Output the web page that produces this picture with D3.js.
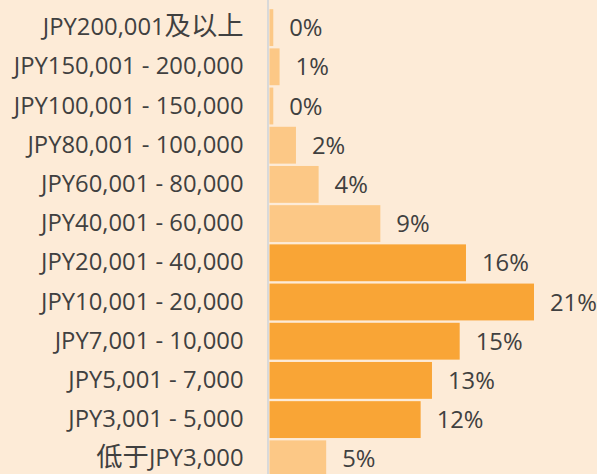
<!DOCTYPE html>
<html>
<head>
<meta charset="utf-8">
<script src="https://cdn.jsdelivr.net/npm/d3@7"></script>
<style>
  html, body { margin: 0; padding: 0; background: #FDEBD7; }
  svg { display: block; }
  text { font-family: "Open Sans", "Noto Sans CJK SC", sans-serif; fill: #404040; }
</style>
</head>
<body>
<svg id="chart" width="597" height="474"></svg>
<script>
// Spending bands, top to bottom
const categories = [
  "JPY200,001及以上",
  "JPY150,001 - 200,000",
  "JPY100,001 - 150,000",
  "JPY80,001 - 100,000",
  "JPY60,001 - 80,000",
  "JPY40,001 - 60,000",
  "JPY20,001 - 40,000",
  "JPY10,001 - 20,000",
  "JPY7,001 - 10,000",
  "JPY5,001 - 7,000",
  "JPY3,001 - 5,000",
  "低于JPY3,000"
];
// Share of respondents, percent
const shares = [0.3, 0.8, 0.3, 2.1, 3.9, 8.8, 15.6, 21.0, 15.1, 12.9, 12.0, 4.5];
// Bands highlighted in the darker tone
const highlighted = [false, false, false, false, false, false, true, true, true, true, true, false];

const W = 597, H = 474;
const margin = { top: 8, left: 269.5 };
const barAreaWidth = 264.5;
const step = 39.2;
const fontSize = 23.8;
const cjkSize = 26.3;

const svg = d3.select("#chart");

const x = d3.scaleLinear().domain([0, 21]).range([0, barAreaWidth]);
const y = d3.scaleBand()
  .domain(categories)
  .range([margin.top, margin.top + step * categories.length])
  .paddingInner(0.06)
  .paddingOuter(0.03);

const rows = categories.map((c, i) => ({ cat: c, v: shares[i], hi: highlighted[i] }));

const g = svg.append("g").attr("transform", `translate(${margin.left},0)`);

g.selectAll("rect.bar")
  .data(rows)
  .join("rect")
  .attr("class", "bar")
  .attr("x", 0)
  .attr("y", d => y(d.cat))
  .attr("width", d => x(d.v))
  .attr("height", y.bandwidth())
  .attr("fill", d => d.hi ? "#F9A536" : "#FCC886");

// value labels
g.selectAll("text.val")
  .data(rows)
  .join("text")
  .attr("class", "val")
  .attr("x", d => x(d.v) + 16)
  .attr("y", d => y(d.cat) + y.bandwidth() / 2)
  .attr("dy", "0.36em")
  .style("font-size", fontSize + "px")
  .text(d => Math.round(d.v) + "%");

// category axis on the left
const axis = d3.axisLeft(y).tickSize(0).tickPadding(26);
const ax = svg.append("g")
  .attr("transform", `translate(${margin.left},0)`)
  .call(axis);
ax.select(".domain")
  .attr("d", `M-1.5,0V${H}`)
  .attr("stroke", "#D9D9D9")
  .attr("stroke-width", 2);

// split each tick label into Latin and CJK runs; CJK runs are set a bit larger
const cjk = /[\u3400-\u9fff]+/g;
ax.selectAll(".tick text")
  .attr("fill", "#404040")
  .style("font-family", '"Open Sans", "Noto Sans CJK SC", sans-serif')
  .style("font-size", fontSize + "px")
  .each(function(d) {
    const t = d3.select(this);
    t.text(null);
    const parts = d.split(/([\u3400-\u9fff]+)/).filter(s => s.length);
    parts.forEach(p => {
      const isCjk = /[\u3400-\u9fff]/.test(p);
      t.append("tspan")
        .style("font-size", (isCjk ? cjkSize : fontSize) + "px")
        .style("font-family", isCjk ? '"Noto Sans CJK SC", sans-serif' : null)
        .text(p);
    });
  });
</script>
</body>
</html>
